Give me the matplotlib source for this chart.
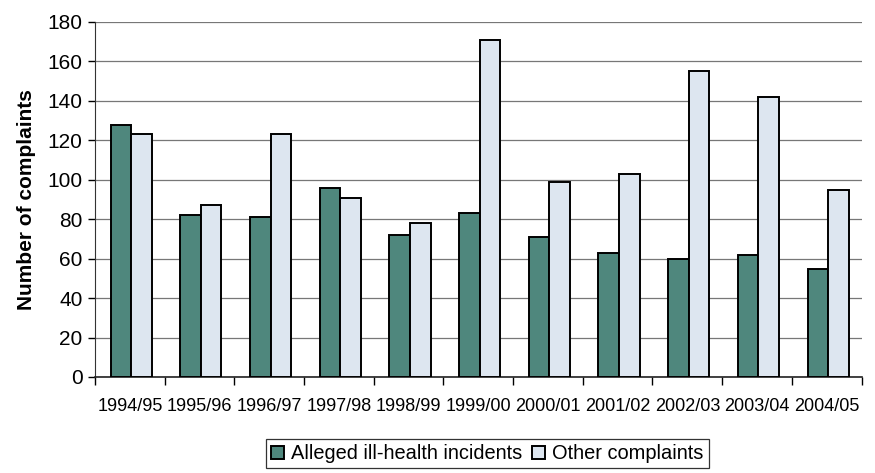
import matplotlib
matplotlib.use("Agg")
import matplotlib.pyplot as plt
import numpy as np

plt.rcParams['font.family'] = ['Liberation Sans', 'DejaVu Sans']

years = ["1994/95", "1995/96", "1996/97", "1997/98", "1998/99", "1999/00",
         "2000/01", "2001/02", "2002/03", "2003/04", "2004/05"]
ill_health = [128, 82, 81, 96, 72, 83, 71, 63, 60, 62, 55]
other = [123, 87, 123, 91, 78, 171, 99, 103, 155, 142, 95]

green = "#4f877d"
light = "#dde6f0"

fig = plt.figure(figsize=(8.75, 4.73), dpi=100)
ax = fig.add_axes([0.1086, 0.203, 0.876, 0.7505])

x = np.arange(len(years))
w = 0.295
ax.bar(x - w / 2 + 0.02, ill_health, width=w, color=green, edgecolor="black",
       linewidth=1.4, label="Alleged ill-health incidents", zorder=3)
ax.bar(x + w / 2 + 0.02, other, width=w, color=light, edgecolor="black",
       linewidth=1.4, label="Other complaints", zorder=3)

ax.set_xlim(-0.5, len(years) - 0.5)
ax.set_ylim(0, 180)
ax.set_yticks(np.arange(0, 181, 20))
ax.yaxis.grid(True, color="#777777", linewidth=0.9, zorder=0)

ax.set_xticks(x)
ax.set_xticklabels(years, fontsize=13)
ax.set_xticks(np.arange(-0.5, len(years)), minor=True)
ax.tick_params(axis="x", which="major", length=0, pad=15)
ax.tick_params(axis="x", which="minor", length=6, width=1, direction="out")
ax.tick_params(axis="y", labelsize=15, length=5, width=1, pad=4)

for side in ("top", "right"):
    ax.spines[side].set_visible(False)
ax.spines["left"].set_color("#333333")
ax.spines["bottom"].set_color("#222222")
ax.spines["bottom"].set_linewidth(1.2)

ax.set_ylabel("Number of complaints", fontsize=15, fontweight="bold", labelpad=8)

leg = fig.legend(loc="center", bbox_to_anchor=(0.557, 0.0405), ncol=2,
                 fontsize=14.4, frameon=True, fancybox=False, edgecolor="black",
                 handlelength=0.65, handleheight=0.65, handletextpad=0.35,
                 columnspacing=0.5, borderpad=0.25)
leg.get_frame().set_linewidth(0.9)

fig.savefig("out.png", dpi=100)
